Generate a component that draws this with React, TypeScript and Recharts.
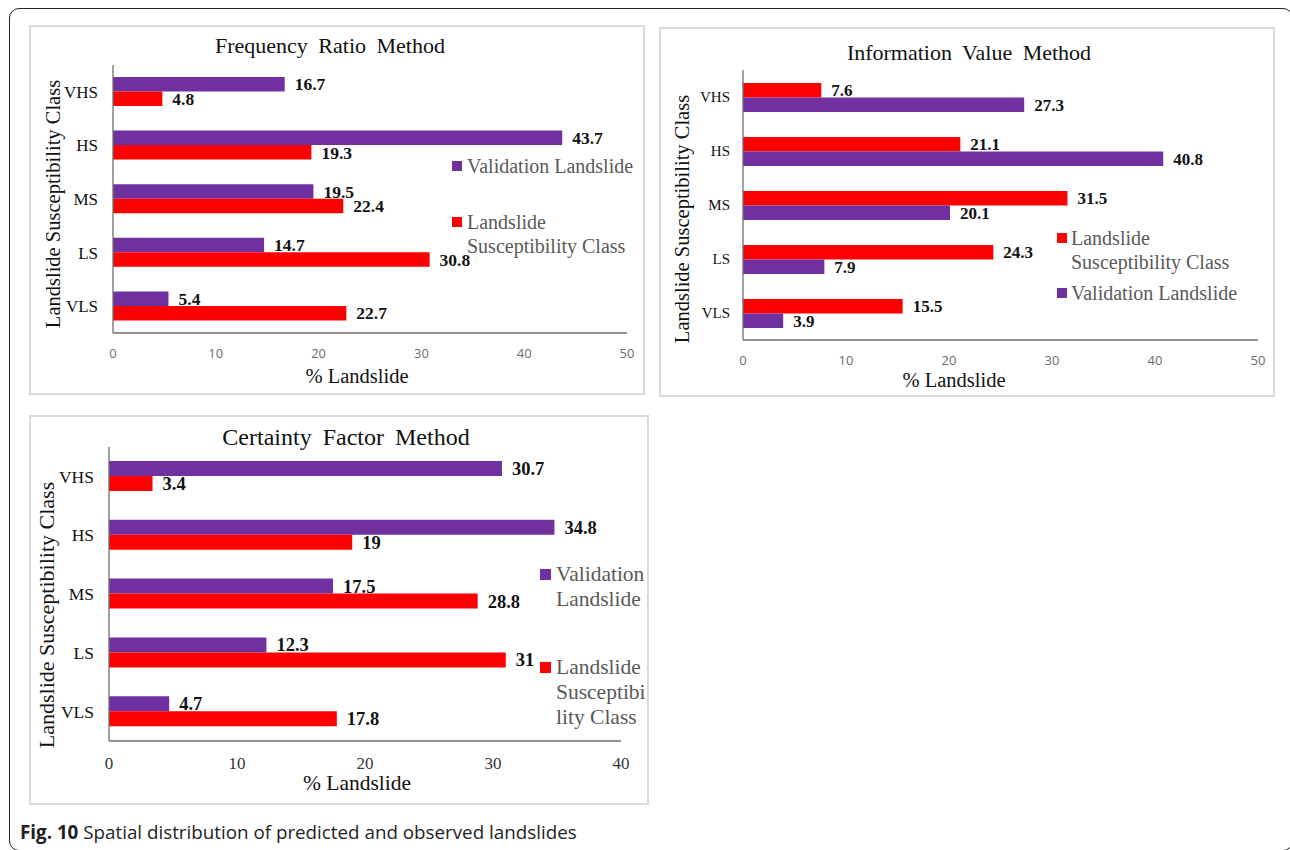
import React from "react";
import { BarChart, Bar, XAxis, YAxis, LabelList, Legend } from "recharts";

// susceptibility classes, top to bottom
const classes = ["VHS", "HS", "MS", "LS", "VLS"];

// % landslide per class
const frValidation = [16.7, 43.7, 19.5, 14.7, 5.4];
const frSusceptibility = [4.8, 19.3, 22.4, 30.8, 22.7];
const ivSusceptibility = [7.6, 21.1, 31.5, 24.3, 15.5];
const ivValidation = [27.3, 40.8, 20.1, 7.9, 3.9];
const cfValidation = [30.7, 34.8, 17.5, 12.3, 4.7];
const cfSusceptibility = [3.4, 19, 28.8, 31, 17.8];

const ticks50 = [0, 10, 20, 30, 40, 50];
const ticks40 = [0, 10, 20, 30, 40];

const titles = ["Frequency Ratio Method", "Information Value Method", "Certainty Factor Method"];
const yAxisTitle = "Landslide Susceptibility Class";
const xAxisTitle = "% Landslide";

// legend text, already wrapped the way the figure wraps it
const frLegendText = [["Validation Landslide"], ["Landslide", "Susceptibility Class"]];
const ivLegendText = [["Landslide", "Susceptibility Class"], ["Validation Landslide"]];
const cfLegendText = [["Validation", "Landslide"], ["Landslide", "Susceptibi", "lity Class"]];

const PURPLE = "#7030A0";
const RED = "#FF0000";
const SERIF = "'Liberation Serif', 'Times New Roman', serif";
const SANS = "'Open Sans', 'Noto Sans', sans-serif";

const panels = [
    {
        title: titles[0],
        box: { left: 29, top: 25, width: 616, height: 370 },
        titlePos: { x: 299, y: 19, size: 22 },
        series: [
            { key: "validation", values: frValidation, color: PURPLE },
            { key: "susceptibility", values: frSusceptibility, color: RED },
        ],
        ticks: ticks50,
        margin: { top: 38, right: 16, left: 0, bottom: 0 },
        yWidth: 82,
        xHeight: 60,
        barSize: 14.5,
        catFont: 17,
        catMargin: 15,
        valueFont: 17.5,
        xTickSerif: false,
        yTitle: { x: 22, y: 177, size: 20.5 },
        xTitle: { x: 326, y: 349, size: 20.5 },
        legend: { text: frLegendText, left: 421, centers: [139, 195], lh: 24, sq: 10, gap: 5, size: 20 },
    },
    {
        title: titles[1],
        box: { left: 659, top: 27, width: 616, height: 370 },
        titlePos: { x: 308, y: 24, size: 22 },
        series: [
            { key: "susceptibility", values: ivSusceptibility, color: RED },
            { key: "validation", values: ivValidation, color: PURPLE },
        ],
        ticks: ticks50,
        margin: { top: 41, right: 15, left: 0, bottom: 0 },
        yWidth: 82,
        xHeight: 55,
        barSize: 14.5,
        catFont: 15,
        catMargin: 13,
        valueFont: 17,
        xTickSerif: false,
        yTitle: { x: 21, y: 190, size: 20.5 },
        xTitle: { x: 293, y: 351, size: 20.5 },
        legend: { text: ivLegendText, left: 396, centers: [209, 264], lh: 24, sq: 10, gap: 4, size: 20 },
    },
    {
        title: titles[2],
        box: { left: 29, top: 415, width: 620, height: 390 },
        titlePos: { x: 315, y: 20, size: 24 },
        series: [
            { key: "validation", values: cfValidation, color: PURPLE },
            { key: "susceptibility", values: cfSusceptibility, color: RED },
        ],
        ticks: ticks40,
        margin: { top: 30, right: 26, left: 0, bottom: 0 },
        yWidth: 78,
        xHeight: 62,
        barSize: 15,
        catFont: 17.5,
        catMargin: 15,
        valueFont: 18.5,
        xTickSerif: true,
        yTitle: { x: 16, y: 198, size: 22 },
        xTitle: { x: 326, y: 367, size: 21.5 },
        legend: { text: cfLegendText, left: 509, centers: [157, 250], lh: 25, sq: 11, gap: 5, size: 21.5 },
    },
];

const textBox = (x: number, y: number, size: number, rotate = 0): React.CSSProperties => ({
    position: "absolute",
    left: x,
    top: y,
    transform: `translate(-50%, -50%) rotate(${rotate}deg)`,
    fontFamily: SERIF,
    fontSize: size,
    whiteSpace: "nowrap",
    lineHeight: 1,
    color: "#111",
});

const Panel = ({ cfg }: any) => {
    const innerW = cfg.box.width - 4;
    const innerH = cfg.box.height - 4;
    const data = classes.map((name, i) => {
        const row: any = { name };
        cfg.series.forEach((s: any) => {
            row[s.key] = s.values[i];
        });
        return row;
    });
    const lg = cfg.legend;

    const renderLegend = () => (
        <div style={{ position: "relative", width: 0, height: 0 }}>
            {lg.text.map((lines: string[], i: number) => (
                <div
                    key={i}
                    style={{
                        position: "absolute",
                        left: 0,
                        top: lg.centers[i] - lg.lh / 2,
                        display: "flex",
                        alignItems: "flex-start",
                    }}
                >
                    <span
                        style={{
                            display: "block",
                            width: lg.sq,
                            height: lg.sq,
                            marginTop: (lg.lh - lg.sq) / 2,
                            background: cfg.series[i].color,
                        }}
                    />
                    <div style={{ marginLeft: lg.gap }}>
                        {lines.map((line) => (
                            <div
                                key={line}
                                style={{
                                    lineHeight: `${lg.lh}px`,
                                    whiteSpace: "nowrap",
                                    fontFamily: SERIF,
                                    fontSize: lg.size,
                                    color: "#595959",
                                }}
                            >
                                {line}
                            </div>
                        ))}
                    </div>
                </div>
            ))}
        </div>
    );

    return (
        <div
            style={{
                position: "absolute",
                left: cfg.box.left,
                top: cfg.box.top,
                width: cfg.box.width,
                height: cfg.box.height,
                border: "2px solid #d9d9d9",
                boxSizing: "border-box",
                background: "#fff",
            }}
        >
            <BarChart
                width={innerW}
                height={innerH}
                data={data}
                layout="vertical"
                margin={cfg.margin}
                barGap={0}
            >
                <XAxis
                    type="number"
                    domain={[cfg.ticks[0], cfg.ticks[cfg.ticks.length - 1]]}
                    ticks={cfg.ticks}
                    height={cfg.xHeight}
                    stroke="#6e6e6e"
                    strokeWidth={1.3}
                    tickLine={false}
                    tickSize={0}
                    tickMargin={16}
                    tick={
                        cfg.xTickSerif
                            ? { fontFamily: SERIF, fontSize: 17, fill: "#333" }
                            : { fontFamily: SANS, fontSize: 13, fill: "#6b6b6b" }
                    }
                />
                <YAxis
                    type="category"
                    dataKey="name"
                    width={cfg.yWidth}
                    stroke="#6e6e6e"
                    strokeWidth={1.3}
                    tickLine={false}
                    tickSize={0}
                    tickMargin={cfg.catMargin}
                    tick={{ fontFamily: SERIF, fontSize: cfg.catFont, fill: "#111" }}
                />
                <Legend
                    layout="vertical"
                    align="center"
                    verticalAlign="middle"
                    content={renderLegend}
                    wrapperStyle={{ left: lg.left, top: 0, width: 0, height: 0 }}
                />
                {cfg.series.map((s: any) => (
                    <Bar
                        key={s.key}
                        dataKey={s.key}
                        fill={s.color}
                        barSize={cfg.barSize}
                        isAnimationActive={false}
                    >
                        <LabelList
                            dataKey={s.key}
                            position="right"
                            offset={10}
                            fill="#111"
                            style={{
                                fontFamily: SERIF,
                                fontSize: cfg.valueFont,
                                fontWeight: 700,
                            }}
                        />
                    </Bar>
                ))}
            </BarChart>
            <div style={{ ...textBox(cfg.titlePos.x, cfg.titlePos.y, cfg.titlePos.size), wordSpacing: 5 }}>
                {cfg.title}
            </div>
            <div style={textBox(cfg.xTitle.x, cfg.xTitle.y, cfg.xTitle.size)}>{xAxisTitle}</div>
            <div style={textBox(cfg.yTitle.x, cfg.yTitle.y, cfg.yTitle.size, -90)}>{yAxisTitle}</div>
        </div>
    );
};

const App = () => {
    return (
        <div
            style={{
                position: "fixed",
                left: 0,
                top: 0,
                width: 1290,
                height: 850,
                overflow: "hidden",
                background: "#fff",
            }}
        >
            <div
                style={{
                    position: "absolute",
                    left: 9,
                    top: 8,
                    width: 1284,
                    height: 843,
                    border: "1.5px solid #222",
                    borderRadius: 10,
                    boxSizing: "border-box",
                }}
            />
            {panels.map((p) => (
                <Panel key={p.title} cfg={p} />
            ))}
            <div
                style={{
                    position: "absolute",
                    left: 20,
                    top: 832,
                    transform: "translateY(-50%)",
                    fontFamily: SANS,
                    fontSize: 18.8,
                    color: "#222",
                    whiteSpace: "nowrap",
                    lineHeight: 1,
                }}
            >
                <b>Fig. 10</b> Spatial distribution of predicted and observed landslides
            </div>
        </div>
    );
};

export default App;
